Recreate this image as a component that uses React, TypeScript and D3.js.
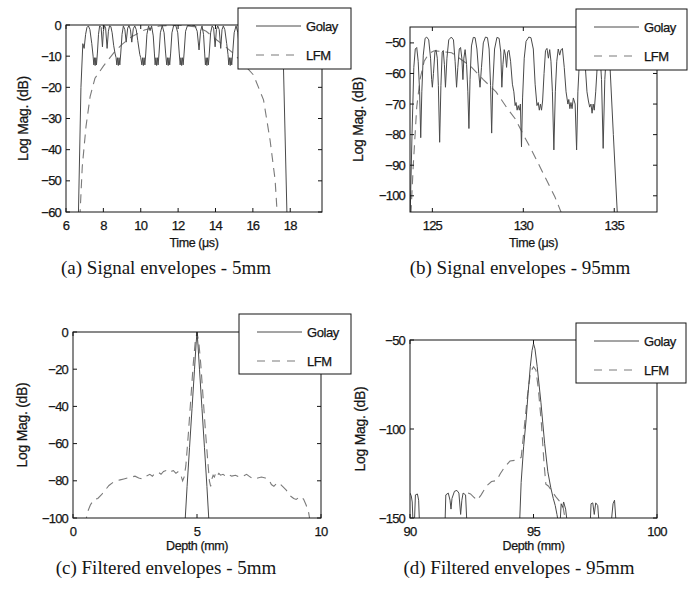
import React from 'react';
import * as d3 from 'd3';

type Pt = [number, number];

// (a) signal envelopes, 5mm  [time us, dB]
const golayA: Pt[] = [
  [6.66, -62], [6.8, -20], [6.9, -6], [6.97, -7.5], [7.05, -3], [7.12, -0.8], [7.2, -0.3], [7.28, -1.5], [7.38, -6],
  [7.45, -10], [7.49, -12.8], [7.53, -10.5], [7.56, -13], [7.6, -10.5], [7.63, -12.8], [7.68, -9],
  [7.74, -3], [7.8, -0.3], [7.88, -0.8], [7.95, -7], [8.0, -2], [8.06, -0.2], [8.12, -1], [8.2, -7.5], [8.27, -2], [8.33, -0.3], [8.4, -0.5], [8.47, -2.5], [8.55, -6.5], [8.62, -9],
  [8.68, -10.5], [8.72, -12.8], [8.76, -10.5], [8.8, -13], [8.84, -10.5], [8.88, -12.8], [8.93, -9],
  [9.0, -3], [9.07, -0.3], [9.15, -1.5], [9.22, -5.5], [9.3, -1], [9.37, -0.2], [9.45, -1.5], [9.52, -5.5], [9.6, -1.2], [9.68, -0.3], [9.76, -1.5], [9.84, -5], [9.95, -9.5],
  [10.0, -10.5], [10.06, -12.8], [10.1, -10.5], [10.14, -13], [10.18, -10.5], [10.22, -12.8], [10.27, -9],
  [10.33, -3], [10.42, -0.3], [10.5, -1.8], [10.58, -0.3], [10.67, -3.5], [10.73, -9],
  [10.77, -12.8], [10.81, -10.5], [10.85, -13], [10.89, -10.5], [10.93, -12.8], [10.98, -9],
  [11.05, -2.5], [11.15, -0.2], [11.25, -2.5], [11.33, -9],
  [11.39, -12.8], [11.43, -10.5], [11.47, -13], [11.51, -10.5], [11.55, -12.8], [11.6, -9],
  [11.67, -2.5], [11.76, -0.2], [11.88, -0.2], [11.98, -2.5], [12.06, -9],
  [12.11, -12.8], [12.15, -10.5], [12.19, -13], [12.23, -10.5], [12.27, -12.8], [12.32, -9],
  [12.4, -2], [12.5, -0.2], [12.7, 0], [12.9, -0.2], [13.02, -2], [13.12, -8], [13.2, -2], [13.28, -0.3], [13.36, -3], [13.42, -9],
  [13.46, -12.8], [13.5, -10.5], [13.54, -13], [13.58, -10.5], [13.62, -12.8], [13.67, -9],
  [13.74, -2.5], [13.82, -0.3], [13.9, -1], [13.98, -7], [14.05, -1.5], [14.12, -0.3], [14.2, -1.5], [14.28, -7.5], [14.35, -1.5], [14.42, -0.3], [14.5, -1.5], [14.6, -6], [14.67, -9.5],
  [14.71, -12.8], [14.75, -10.5], [14.79, -13], [14.83, -10.5], [14.87, -12.8], [14.92, -9],
  [15.0, -2.5], [15.1, -0.3], [15.2, -2.5], [15.3, -9],
  [15.35, -12.8], [15.39, -10.5], [15.43, -13], [15.47, -10.5], [15.51, -12.8], [15.56, -9],
  [15.64, -2.5], [15.72, -0.3], [15.8, -1], [15.88, -6.5], [15.96, -1.2], [16.04, -0.3], [16.12, -2.5], [16.2, -9],
  [16.24, -12.8], [16.28, -10.5], [16.32, -13], [16.36, -10.5], [16.4, -12.8], [16.45, -9],
  [16.53, -2.5], [16.62, -0.3], [16.72, -2.5], [16.8, -9],
  [16.84, -12.8], [16.88, -10.5], [16.92, -13], [16.96, -10.5], [17.0, -12.8], [17.05, -9],
  [17.13, -2.5], [17.22, -0.3], [17.32, -1.5], [17.42, -6], [17.55, -10], [17.64, -14], [17.83, -62],
];
const lfmA: Pt[] = [
  [6.74, -62], [6.87, -45.5], [7.07, -32.6], [7.29, -23], [7.55, -17.1], [8.0, -13.2], [8.6, -8.6], [9.0, -6.2],
  [9.5, -3.8], [10.2, -1.6], [11.0, -0.3], [12.0, 0], [13.0, -0.6], [13.5, -2], [14.07, -4.8], [14.5, -6.8],
  [14.96, -9.1], [15.5, -12.5], [16.03, -16], [16.57, -24], [16.92, -36.9], [17.19, -49.7], [17.28, -58.3], [17.31, -62],
];

// (b) signal envelopes, 95mm
const golayB: Pt[] = [
  [123.78, -106], [123.88, -80], [123.98, -58], [124.06, -52], [124.14, -51.5], [124.22, -56], [124.3, -66], [124.36, -81], [124.42, -66],
  [124.5, -54], [124.6, -48.5], [124.69, -48.1], [124.8, -49], [124.9, -55], [124.96, -62], [125.0, -64.5], [125.06, -60],
  [125.14, -53], [125.2, -52.3], [125.27, -55], [125.33, -64], [125.4, -82.5], [125.47, -64], [125.54, -53], [125.6, -52.5],
  [125.66, -57], [125.72, -64.5], [125.8, -55], [125.9, -49], [126.04, -48.1], [126.16, -49], [126.25, -56], [126.33, -64.5],
  [126.4, -58], [126.48, -52], [126.55, -51.5], [126.62, -55], [126.68, -62], [126.73, -55], [126.8, -52.2], [126.88, -57],
  [126.95, -66], [127.01, -78], [127.07, -62], [127.15, -51], [127.25, -48.2], [127.35, -48.3], [127.45, -52], [127.55, -60],
  [127.62, -64.5], [127.7, -58], [127.8, -50], [127.92, -48.1], [128.03, -48.3], [128.12, -52], [128.2, -64], [128.26, -79.5],
  [128.32, -64], [128.42, -52], [128.55, -48.2], [128.67, -48.5], [128.76, -53], [128.82, -64.5], [128.88, -57], [128.95, -52.2],
  [129.02, -54], [129.08, -58], [129.14, -53], [129.21, -52.4], [129.3, -56], [129.4, -63.5], [129.48, -66], [129.55, -70.5],
  [129.6, -69.5], [129.66, -72], [129.72, -70.5], [129.78, -72], [129.84, -70], [129.9, -84], [129.96, -68], [130.05, -55],
  [130.15, -49.5], [130.3, -48.1], [130.42, -48.3], [130.55, -52], [130.65, -63.5], [130.75, -70.5], [130.82, -69.5],
  [130.88, -72], [130.94, -70], [131.0, -72], [131.06, -69], [131.14, -60], [131.22, -52.5], [131.3, -51.8], [131.38, -55],
  [131.45, -52.2], [131.52, -56], [131.6, -66], [131.68, -85], [131.76, -66], [131.84, -56], [131.92, -52], [132.0, -54],
  [132.07, -52.3], [132.15, -51.8], [132.25, -58], [132.35, -66], [132.45, -70], [132.5, -68.5], [132.56, -71.5], [132.62, -69.5],
  [132.68, -71.5], [132.75, -68], [132.85, -70], [132.93, -85], [133.0, -66], [133.1, -54], [133.2, -52], [133.3, -52],
  [133.4, -57], [133.5, -66], [133.58, -69], [133.65, -71], [133.72, -70], [133.78, -73], [133.84, -70], [133.9, -72],
  [133.98, -66], [134.08, -56], [134.2, -52], [134.3, -62], [134.39, -84.5], [134.48, -62], [134.58, -52], [134.68, -52.5],
  [134.76, -57], [134.95, -80], [135.17, -106],
];
const lfmB: Pt[] = [
  [123.82, -106], [123.95, -90], [124.14, -71], [124.32, -62], [124.55, -56], [124.8, -53.5], [125.1, -52.6], [125.5, -52.8],
  [126.06, -53.2], [126.6, -55.5], [127.15, -57.9], [127.8, -62], [128.5, -66], [129.07, -71], [129.55, -74.8], [130.0, -80],
  [130.45, -85], [131.19, -93.8], [131.74, -100.4], [132.12, -106],
];

// (c) filtered envelopes, 5mm  [depth mm, dB]
const golayC: Pt[] = [
  [4.51, -104], [4.6, -83], [4.7, -62], [4.8, -41], [4.9, -20], [4.96, -7], [5.0, 0],
  [5.04, -7], [5.1, -20], [5.2, -41], [5.3, -62], [5.4, -83], [5.49, -104],
];
const lfmC: Pt[] = [
  [0.49, -104], [0.58, -97], [0.7, -93], [0.85, -90], [1.0, -89.5], [1.15, -87.5], [1.3, -85], [1.45, -82.5], [1.6, -81],
  [1.75, -80], [1.9, -79.5], [2.05, -79], [2.2, -78.5], [2.35, -78], [2.5, -77.5], [2.65, -78.5], [2.8, -79], [2.95, -77.5],
  [3.1, -76.5], [3.2, -77.5], [3.3, -76], [3.45, -75.5], [3.55, -76.5], [3.65, -75], [3.75, -74.5], [3.85, -75.5], [3.95, -75],
  [4.05, -74.5], [4.15, -76], [4.25, -75], [4.35, -77], [4.42, -80], [4.48, -78], [4.55, -72], [4.65, -55], [4.75, -36],
  [4.85, -17], [4.93, -5], [5.0, -0.5], [5.07, -5], [5.15, -17], [5.25, -36], [5.35, -55], [5.45, -72], [5.5, -80],
  [5.55, -83], [5.6, -79], [5.65, -77], [5.7, -78], [5.75, -76], [5.8, -77.5], [5.88, -76], [5.95, -77], [6.05, -76.5],
  [6.15, -77.5], [6.25, -76.5], [6.4, -77.5], [6.55, -77], [6.7, -78], [6.85, -77.5], [7.0, -76.5], [7.15, -78], [7.3, -79],
  [7.45, -78.5], [7.6, -78], [7.75, -78.5], [7.9, -79.5], [8.0, -82], [8.1, -83], [8.2, -81.5], [8.3, -81], [8.45, -83],
  [8.6, -85], [8.75, -88], [8.9, -89.5], [9.0, -90], [9.1, -89], [9.2, -88.5], [9.3, -90], [9.4, -93], [9.5, -97], [9.59, -104],
];

// (d) filtered envelopes, 95mm
const golayD: Pt[] = [
  [90.0, -136], [90.05, -137.5], [90.09, -141], [90.12, -152], [90.18, -152], [90.22, -137], [90.3, -136.5], [90.35, -140],
  [90.38, -152], [91.42, -152], [91.45, -137], [91.55, -136], [91.62, -140], [91.66, -145], [91.7, -139], [91.8, -135],
  [91.9, -134.5], [91.98, -136], [92.05, -148], [92.1, -140], [92.15, -136], [92.25, -137], [92.3, -152], [94.44, -152],
  [94.5, -130], [94.6, -110], [94.7, -95], [94.78, -80], [94.87, -65], [94.94, -56], [95.0, -52], [95.06, -55], [95.15, -65],
  [95.3, -85], [95.45, -108], [95.58, -124], [95.7, -133], [95.8, -139], [95.88, -143], [95.95, -148], [96.0, -152],
  [96.08, -152], [96.12, -142], [96.18, -144], [96.22, -141], [96.3, -145], [96.36, -152], [97.3, -152], [97.33, -142],
  [97.4, -141.5], [97.46, -148], [97.52, -141.5], [97.6, -143], [97.65, -152], [98.15, -152], [98.22, -142], [98.28, -140],
  [98.34, -152], [100, -152],
];
const lfmD: Pt[] = [
  [92.35, -136], [92.45, -136.5], [92.6, -138.5], [92.72, -140], [92.88, -137], [93.1, -132], [93.3, -129.5], [93.5, -129],
  [93.66, -125], [93.85, -121], [94.05, -118], [94.3, -117.5], [94.5, -116], [94.62, -100], [94.75, -82], [94.88, -68],
  [95.0, -65], [95.1, -67], [95.2, -78], [95.32, -97], [95.42, -118], [95.5, -131], [95.6, -132], [95.75, -135],
  [95.9, -138], [96.05, -140.5], [96.18, -142.5], [96.3, -152],
];

const xTicksA = [6, 8, 10, 12, 14, 16, 18];
const yTicksA = [0, -10, -20, -30, -40, -50, -60];
const xTicksB = [125, 130, 135];
const yTicksB = [-50, -60, -70, -80, -90, -100];
const xTicksC = [0, 5, 10];
const yTicksC = [0, -20, -40, -60, -80, -100];
const xTicksD = [90, 95, 100];
const yTicksD = [-50, -100, -150];

const seriesNames = ['Golay', 'LFM'];
const captions = [
  '(a) Signal envelopes - 5mm',
  '(b) Signal envelopes - 95mm',
  '(c) Filtered envelopes - 5mm',
  '(d) Filtered envelopes - 95mm',
];

const sans = '"Liberation Sans", Arial, Helvetica, sans-serif';
const serif = '"Liberation Serif", "Times New Roman", serif';
const ink = '#151515';
const golayColor = '#4a4a4a';
const lfmColor = '#7a7a7a';

interface PanelProps {
  id: string;
  box: { left: number; right: number; top: number; bottom: number };
  xDomain: [number, number];
  yDomain: [number, number];
  xTicks: number[];
  yTicks: number[];
  golay: Pt[];
  lfm: Pt[];
  legend: { x: number; y: number; w: number; h: number };
  xLabel: string;
  yLabelX: number;
  xLabelY: number;
  caption: string;
  captionX: number;
  captionY: number;
}

// text that looks a bit heavier, like the scanned figure
const txt = { fontFamily: sans, fill: ink, stroke: ink, strokeWidth: 0.25 };

const Panel: React.FC<PanelProps> = (p) => {
  const { box } = p;
  const x = d3.scaleLinear().domain(p.xDomain).range([box.left, box.right]);
  const y = d3.scaleLinear().domain(p.yDomain).range([box.bottom, box.top]);
  const line = d3.line<Pt>().x((d) => x(d[0])).y((d) => y(d[1]));
  const fmt = d3.format('d');
  const tl = 4;
  const midY = (box.top + box.bottom) / 2;
  const midX = (box.left + box.right) / 2;
  const lg = p.legend;

  return (
    <g>
      <clipPath id={p.id}>
        <rect x={box.left} y={box.top} width={box.right - box.left} height={box.bottom - box.top} />
      </clipPath>
      <g clipPath={`url(#${p.id})`} fill="none">
        <path d={line(p.lfm) || ''} stroke={lfmColor} strokeWidth={1.1} strokeDasharray="9,6" />
        <path d={line(p.golay) || ''} stroke={golayColor} strokeWidth={1} />
      </g>
      <rect x={box.left} y={box.top} width={box.right - box.left} height={box.bottom - box.top}
        fill="none" stroke={ink} strokeWidth={1} />
      {p.xTicks.map((t) => (
        <g key={'x' + t}>
          <line x1={x(t)} x2={x(t)} y1={box.bottom} y2={box.bottom - tl} stroke={ink} />
          <line x1={x(t)} x2={x(t)} y1={box.top} y2={box.top + tl} stroke={ink} />
          <text x={x(t)} y={box.bottom + 18} textAnchor="middle" fontSize={13} letterSpacing={-0.8}
            {...txt}>{fmt(t)}</text>
        </g>
      ))}
      {p.yTicks.map((t) => (
        <g key={'y' + t}>
          <line x1={box.left} x2={box.left + tl} y1={y(t)} y2={y(t)} stroke={ink} />
          <line x1={box.right} x2={box.right - tl} y1={y(t)} y2={y(t)} stroke={ink} />
          <text x={box.left - 5} y={y(t) + 4.5} textAnchor="end" fontSize={13} letterSpacing={-0.8}
            {...txt}>{fmt(t)}</text>
        </g>
      ))}
      <text x={midX} y={p.xLabelY} textAnchor="middle" fontSize={12.5} letterSpacing={-0.4}
        {...txt}>{p.xLabel}</text>
      <text transform={`translate(${p.yLabelX},${midY}) rotate(-90)`} textAnchor="middle" fontSize={14}
        letterSpacing={-0.3} {...txt}>Log Mag. (dB)</text>

      <rect x={lg.x} y={lg.y} width={lg.w} height={lg.h} fill="#fff" stroke={ink} strokeWidth={1} />
      <line x1={lg.x + 18} x2={lg.x + 63} y1={lg.y + 18} y2={lg.y + 18} stroke={golayColor} />
      <line x1={lg.x + 18} x2={lg.x + 63} y1={lg.y + 47} y2={lg.y + 47} stroke={lfmColor}
        strokeWidth={1.1} strokeDasharray="8,7" />
      <text x={lg.x + 68} y={lg.y + 23} fontSize={13} letterSpacing={-0.4} {...txt}>{seriesNames[0]}</text>
      <text x={lg.x + 68} y={lg.y + 52} fontSize={13} letterSpacing={-0.4} {...txt}>{seriesNames[1]}</text>

      <text x={p.captionX} y={p.captionY} textAnchor="middle" fontSize={19} fontFamily={serif}
        fill={ink}>{p.caption}</text>
    </g>
  );
};

const App: React.FC = () => {
  return (
    <svg width={693} height={591} style={{ position: 'absolute', left: 0, top: 0, background: '#fff' }}>
      <Panel id="pa" box={{ left: 66, right: 322, top: 25, bottom: 212 }} xDomain={[6, 19.7]} yDomain={[-60, 0]}
        xTicks={xTicksA} yTicks={yTicksA} golay={golayA} lfm={lfmA}
        legend={{ x: 238, y: 8, w: 113, h: 61 }} xLabel="Time (μs)" yLabelX={28} xLabelY={247}
        caption={captions[0]} captionX={166} captionY={274} />
      <Panel id="pb" box={{ left: 410, right: 657, top: 27, bottom: 212 }} xDomain={[123.77, 137.35]}
        yDomain={[-105.3, -44.8]} xTicks={xTicksB} yTicks={yTicksB} golay={golayB} lfm={lfmB}
        legend={{ x: 576, y: 9, w: 111, h: 61 }} xLabel="Time (μs)" yLabelX={363} xLabelY={247}
        caption={captions[1]} captionX={520} captionY={274} />
      <Panel id="pc" box={{ left: 73, right: 321, top: 332, bottom: 518 }} xDomain={[0, 10]} yDomain={[-100, 0]}
        xTicks={xTicksC} yTicks={yTicksC} golay={golayC} lfm={lfmC}
        legend={{ x: 239, y: 314, w: 112, h: 60 }} xLabel="Depth (mm)" yLabelX={27} xLabelY={550}
        caption={captions[2]} captionX={166} captionY={574} />
      <Panel id="pd" box={{ left: 410, right: 657, top: 340, bottom: 518 }} xDomain={[90, 100]}
        yDomain={[-150, -50]} xTicks={xTicksD} yTicks={yTicksD} golay={golayD} lfm={lfmD}
        legend={{ x: 576, y: 323, w: 110, h: 60 }} xLabel="Depth (mm)" yLabelX={365} xLabelY={550}
        caption={captions[3]} captionX={519} captionY={574} />
    </svg>
  );
};

export default App;
